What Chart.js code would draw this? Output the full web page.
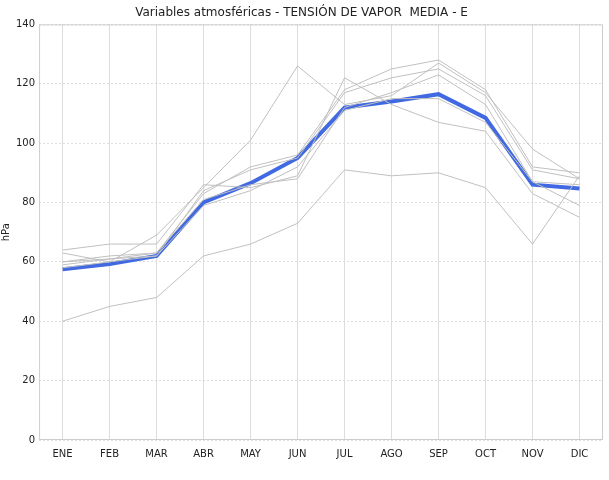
<!DOCTYPE html>
<html>
<head>
<meta charset="utf-8">
<script src="https://cdn.jsdelivr.net/npm/chart.js@4/dist/chart.umd.min.js"></script>
<style>
  body { margin: 0; background: #fff; }
  #wrap { width: 609px; height: 480px; }
</style>
</head>
<body>
<div id="wrap"><canvas id="chart"></canvas></div>
<script>
// months and yearly series (hPa)
const months = ['ENE','FEB','MAR','ABR','MAY','JUN','JUL','AGO','SEP','OCT','NOV','DIC'];
const year1 = [40, 45, 48, 62, 66, 73, 91, 89, 90, 85, 66, 89];
const year2 = [63, 60, 69, 85, 101, 126, 113, 116, 127, 117, 98, 88];
const year3 = [64, 66, 66, 86, 85, 89, 122, 113, 107, 104, 83, 75];
const year4 = [60, 62, 63, 83, 92, 96, 118, 125, 128, 118, 92, 90];
const year5 = [59, 61, 62, 84, 91, 95, 117, 122, 125, 116, 91, 88];
const year6 = [60, 61, 63, 81, 86, 88, 112, 117, 123, 113, 87, 79];
const year7 = [58, 60, 62, 79, 84, 92, 111, 115, 115, 107, 87, 86];
const media = [57.5, 59.3, 62, 80, 86.5, 95, 112, 114, 116.5, 108.5, 86, 84.7];

const years = [year1, year2, year3, year4, year5, year6, year7];

const datasets = years.map(vals => ({
    data: vals,
    borderColor: '#c0c0c0',
    borderWidth: 1,
    pointRadius: 0,
    tension: 0
}));
datasets.push({
    data: media,
    borderColor: '#4169e1',
    borderWidth: 4,
    pointRadius: 0,
    tension: 0
});

// solid frame around the plot area
const frame = {
    id: 'frame',
    afterDraw(chart) {
        const a = chart.chartArea, ctx = chart.ctx;
        ctx.save();
        ctx.strokeStyle = '#cccccc';
        ctx.lineWidth = 1;
        ctx.strokeRect(a.left + 0.5, a.top + 0.5, a.right - a.left - 1, a.bottom - a.top - 1);
        ctx.restore();
    }
};

new Chart(document.getElementById('chart'), {
    type: 'line',
    data: { labels: months, datasets: datasets },
    plugins: [frame],
    options: {
        responsive: true,
        maintainAspectRatio: false,
        animation: false,
        layout: { padding: { left: 0, right: 6, top: 4, bottom: 12 } },
        plugins: {
            legend: { display: false },
            title: {
                display: true,
                text: 'Variables atmosféricas - TENSIÓN DE VAPOR  MEDIA - E',
                color: '#222',
                font: { family: 'DejaVu Sans', size: 12, weight: 'normal' },
                padding: { top: 2, bottom: 4 }
            }
        },
        scales: {
            x: {
                offset: true,
                grid: { color: '#dddddd', drawTicks: false },
                border: { display: false },
                ticks: { color: '#222', font: { family: 'DejaVu Sans', size: 10 }, padding: 8 }
            },
            y: {
                min: 0, max: 140,
                ticks: { stepSize: 20, color: '#222', font: { family: 'DejaVu Sans', size: 10 }, padding: 4 },
                grid: { color: '#dddddd', drawTicks: false },
                border: { display: false, dash: [2, 2] },
                title: { display: true, text: 'hPa', color: '#222', font: { family: 'DejaVu Sans', size: 10 }, padding: 0 }
            }
        }
    }
});
</script>
</body>
</html>
